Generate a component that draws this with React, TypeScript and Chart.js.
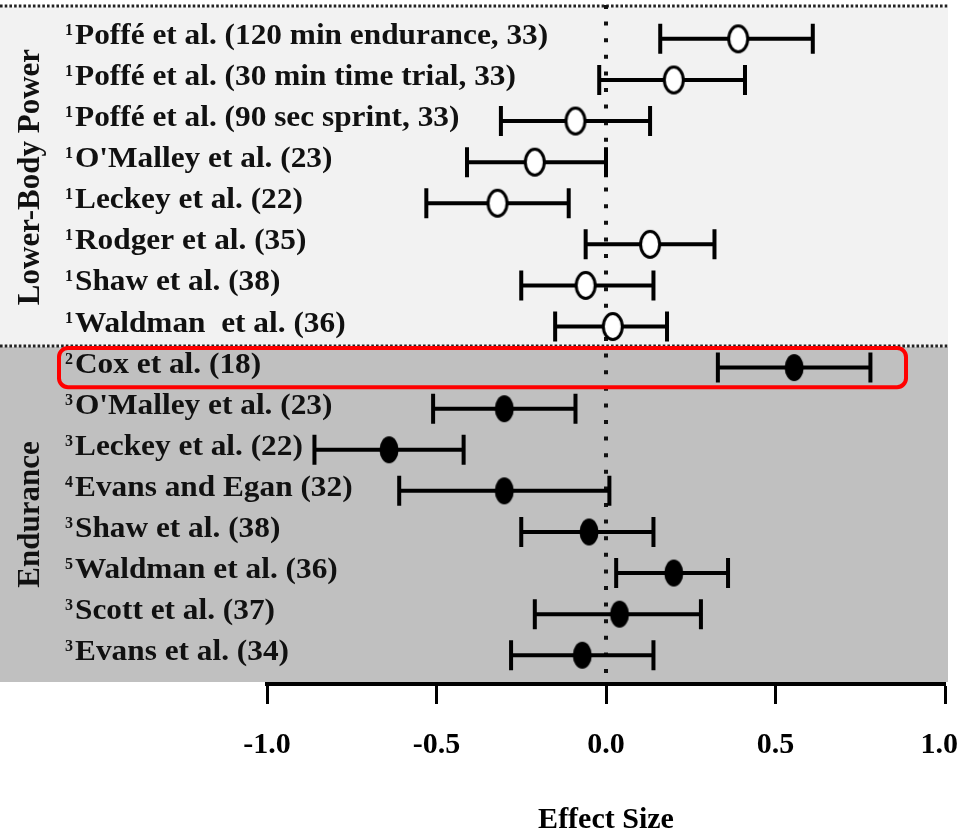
import React, { useEffect, useRef } from 'react';
import { Chart, registerables } from 'chart.js';

Chart.register(...registerables);

// ---- data ----
const studyNotes = [1, 1, 1, 1, 1, 1, 1, 1, 2, 3, 3, 4, 3, 5, 3, 3];
const studyNames = [
  'Poffé et al. (120 min endurance, 33)',
  'Poffé et al. (30 min time trial, 33)',
  'Poffé et al. (90 sec sprint, 33)',
  "O'Malley et al. (23)",
  'Leckey et al. (22)',
  'Rodger et al. (35)',
  'Shaw et al. (38)',
  'Waldman  et al. (36)',
  'Cox et al. (18)',
  "O'Malley et al. (23)",
  'Leckey et al. (22)',
  'Evans and Egan (32)',
  'Shaw et al. (38)',
  'Waldman et al. (36)',
  'Scott et al. (37)',
  'Evans et al. (34)',
];
const effectSizes = [0.39, 0.2, -0.09, -0.21, -0.32, 0.13, -0.06, 0.02, 0.555, -0.3, -0.64, -0.3, -0.05, 0.2, 0.04, -0.07];
const ciLower = [0.16, -0.02, -0.31, -0.41, -0.53, -0.06, -0.25, -0.15, 0.33, -0.51, -0.86, -0.61, -0.25, 0.03, -0.21, -0.28];
const ciUpper = [0.61, 0.41, 0.13, 0.0, -0.11, 0.32, 0.14, 0.18, 0.78, -0.09, -0.42, 0.01, 0.14, 0.36, 0.28, 0.14];

const groupNames = ['Lower-Body Power', 'Endurance'];
const groupFirstRow = [0, 8];
const groupLastRow = [7, 15];
const groupFilled = [false, true];
const groupBackgrounds = ['#f2f2f2', '#c0c0c0'];

const xMin = -1;
const xMax = 1;
const xStep = 0.5;
const highlightRow = 8;
const highlightRightValue = 0.885;
const xTitle = 'Effect Size';

const SERIF = '"Liberation Serif", "Times New Roman", serif';

function makeEllipse(filled: boolean): HTMLCanvasElement {
  const c = document.createElement('canvas');
  c.width = 24;
  c.height = 31;
  const g = c.getContext('2d')!;
  g.beginPath();
  g.ellipse(12, 15.5, filled ? 9.5 : 9.5, filled ? 13.5 : 13, 0, 0, Math.PI * 2);
  if (filled) {
    g.fillStyle = '#000';
    g.fill();
  } else {
    g.fillStyle = '#fff';
    g.fill();
    g.lineWidth = 3;
    g.strokeStyle = '#000';
    g.stroke();
  }
  return c;
}

const forestPlugin = {
  id: 'forest',
  beforeDraw(chart: any) {
    const { ctx, chartArea, scales } = chart;
    const y = scales.y;
    const x = scales.x;
    const right = chartArea.right + 3;
    ctx.save();
    ctx.fillStyle = '#fff';
    ctx.fillRect(0, 0, chart.width, chart.height);

    const last = groupNames.length - 1;
    const tops: number[] = [];
    const bottoms: number[] = [];
    groupNames.forEach((_, g) => {
      const top = g === 0 ? chartArea.top + 1 : y.getPixelForValue(groupFirstRow[g] - 0.5);
      const bottom = g === last ? chartArea.bottom - 2 : y.getPixelForValue(groupLastRow[g] + 0.5);
      tops.push(top);
      bottoms.push(bottom);
      ctx.fillStyle = groupBackgrounds[g];
      ctx.fillRect(0, top, right, bottom - top);
    });

    // dotted separators
    ctx.strokeStyle = '#222';
    ctx.lineWidth = 3;
    ctx.setLineDash([2.6, 2.1]);
    tops.forEach((t) => {
      ctx.beginPath();
      ctx.moveTo(0, t - 1);
      ctx.lineTo(right, t - 1);
      ctx.stroke();
    });

    // zero reference line
    const zx = x.getPixelForValue(0);
    ctx.setLineDash([4, 12.6]);
    ctx.lineWidth = 4;
    ctx.strokeStyle = '#111';
    ctx.beginPath();
    ctx.moveTo(zx, chartArea.top - 1);
    ctx.lineTo(zx, chartArea.bottom - 2);
    ctx.stroke();
    ctx.setLineDash([]);

    // group labels
    ctx.fillStyle = '#111';
    ctx.font = `bold 31px ${SERIF}`;
    ctx.textAlign = 'center';
    ctx.textBaseline = 'middle';
    groupNames.forEach((name, g) => {
      ctx.save();
      ctx.translate(31, (tops[g] + bottoms[g]) / 2);
      ctx.rotate(-Math.PI / 2);
      ctx.fillText(name, 0, 0);
      ctx.restore();
    });

    // row labels
    ctx.textAlign = 'left';
    ctx.textBaseline = 'alphabetic';
    studyNames.forEach((name, i) => {
      const py = y.getPixelForValue(i);
      ctx.font = `bold 16px ${SERIF}`;
      ctx.fillText(String(studyNotes[i]), 65, py - 4);
      ctx.save();
      ctx.translate(75, py + 5);
      ctx.scale(1.044, 1);
      ctx.font = `bold 30px ${SERIF}`;
      ctx.fillText(name, 0, 0);
      ctx.restore();
    });
    ctx.restore();
  },
  beforeDatasetsDraw(chart: any) {
    const { ctx, scales } = chart;
    const x = scales.x;
    const y = scales.y;
    ctx.save();
    ctx.strokeStyle = '#000';
    ctx.lineWidth = 4;
    ctx.lineCap = 'butt';
    effectSizes.forEach((_, i) => {
      const py = y.getPixelForValue(i);
      const x1 = x.getPixelForValue(ciLower[i]);
      const x2 = x.getPixelForValue(ciUpper[i]);
      ctx.beginPath();
      ctx.moveTo(x1, py);
      ctx.lineTo(x2, py);
      ctx.moveTo(x1, py - 15);
      ctx.lineTo(x1, py + 15);
      ctx.moveTo(x2, py - 15);
      ctx.lineTo(x2, py + 15);
      ctx.stroke();
    });
    ctx.restore();
  },
  afterDatasetsDraw(chart: any) {
    const { ctx, scales, chartArea } = chart;
    const x = scales.x;
    const y = scales.y;
    const top = y.getPixelForValue(highlightRow - 0.5) + 1;
    const bottom = y.getPixelForValue(highlightRow + 0.5) - 1;
    const left = 59;
    const right = x.getPixelForValue(highlightRightValue);
    ctx.save();
    ctx.strokeStyle = '#ff0000';
    ctx.lineWidth = 4;
    ctx.beginPath();
    ctx.roundRect(left, top, right - left, bottom - top, 9);
    ctx.stroke();

    // x tick labels, kept inside the canvas
    ctx.fillStyle = '#000';
    ctx.font = `bold 30px ${SERIF}`;
    ctx.textAlign = 'center';
    ctx.textBaseline = 'middle';
    const ly = chartArea.bottom + 20 + 23 + 18;
    x.ticks.forEach((t: any) => {
      const label = Number(t.value).toFixed(1);
      const w = ctx.measureText(label).width;
      let cx = x.getPixelForValue(t.value);
      cx = Math.min(cx, chart.width - 2 - w / 2);
      ctx.fillText(label, cx, ly);
    });
    ctx.restore();
  },
};

export default function App() {
  const ref = useRef<HTMLCanvasElement | null>(null);
  useEffect(() => {
    if (!ref.current) return;
    const openMarker = makeEllipse(false);
    const filledMarker = makeEllipse(true);
    const datasets = groupNames.map((name, g) => {
      const pts: { x: number; y: number }[] = [];
      for (let i = groupFirstRow[g]; i <= groupLastRow[g]; i++) pts.push({ x: effectSizes[i], y: i });
      return {
        label: name,
        data: pts,
        pointStyle: groupFilled[g] ? filledMarker : openMarker,
        pointRadius: 12,
        borderColor: '#000',
        backgroundColor: groupFilled[g] ? '#000' : '#fff',
        showLine: false,
      };
    });
    const chart = new Chart(ref.current, {
      type: 'scatter',
      data: { datasets },
      options: {
        animation: false,
        responsive: false,
        events: [],
        layout: { autoPadding: false, padding: { left: 267, right: 15, top: 6, bottom: 0 } },
        plugins: { legend: { display: false }, tooltip: { enabled: false } },
        scales: {
          x: {
            type: 'linear',
            min: xMin,
            max: xMax,
            afterFit: (s: any) => {
              s.height = 151;
              s.paddingLeft = 0;
              s.paddingRight = 0;
              s.paddingTop = 0;
              s.paddingBottom = 0;
            },
            ticks: {
              stepSize: xStep,
              display: false,
            },
            grid: {
              display: true,
              drawOnChartArea: false,
              drawTicks: true,
              tickLength: 20,
              tickWidth: 3,
              tickColor: '#000',
            },
            border: { display: true, color: '#000', width: 4 },
            title: {
              display: true,
              text: xTitle,
              color: '#000',
              font: { family: SERIF, size: 30, weight: 'bold' },
              padding: { top: 20, bottom: -3 },
            },
          },
          y: {
            type: 'linear',
            min: -0.8,
            max: 15.7,
            reverse: true,
            display: false,
          },
        },
      },
      plugins: [forestPlugin],
    } as any);
    return () => chart.destroy();
  }, []);
  return (
    <div style={{ position: 'absolute', left: 0, top: 0, width: 960, height: 835 }}>
      <canvas ref={ref} width={960} height={835} style={{ display: 'block' }} />
    </div>
  );
}
